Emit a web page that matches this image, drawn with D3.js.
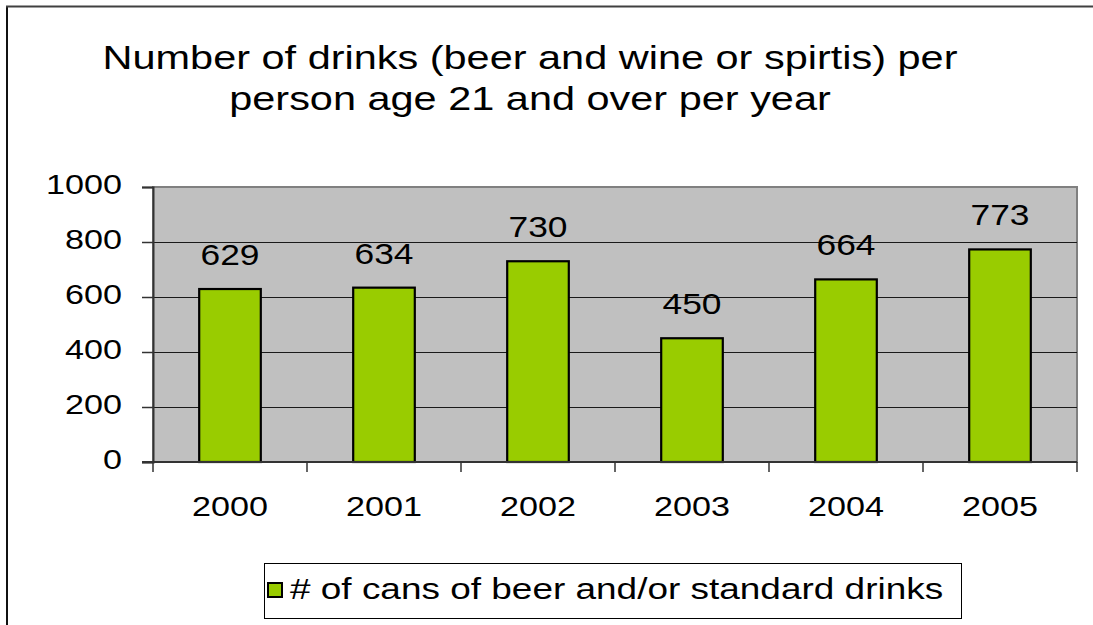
<!DOCTYPE html>
<html>
<head>
<meta charset="utf-8">
<script src="https://cdn.jsdelivr.net/npm/d3@7"></script>
<style>
  html, body { margin: 0; padding: 0; background: #fff; }
  svg { display: block; font-family: "Liberation Sans", Arial, sans-serif; }
</style>
</head>
<body>
<svg id="chart" width="1093" height="625"></svg>
<script>
const titleLines = ["Number of drinks (beer and wine or spirtis) per", "person age 21 and over per year"];
const categories = ["2000", "2001", "2002", "2003", "2004", "2005"];
const values = [629, 634, 730, 450, 664, 773];
const yTicks = [0, 200, 400, 600, 800, 1000];
const seriesName = "# of cans of beer and/or standard drinks";

const W = 1093, H = 625;
const SX = 1.22; // horizontal stretch of the text in the original
const plot = { left: 153, right: 1077, top: 187, bottom: 462 };

const svg = d3.select("#chart");

// outer frame (left and top edges visible)
svg.append("line").attr("x1", 7).attr("x2", 7).attr("y1", 6).attr("y2", H)
  .attr("stroke", "#111").attr("stroke-width", 2);
svg.append("line").attr("x1", 6).attr("x2", W).attr("y1", 6.5).attr("y2", 6.5)
  .attr("stroke", "#404040").attr("stroke-width", 2);

function stretchedText(sel, x, y, txt, size, anchor) {
  return sel.append("text")
    .attr("transform", `translate(${x},${y}) scale(${SX},1)`)
    .attr("text-anchor", anchor)
    .attr("font-size", size)
    .attr("fill", "#000")
    .text(txt);
}

// title
titleLines.forEach((t, i) => stretchedText(svg, 530, 69 + i * 41, t, 34, "middle"));

const x = d3.scaleBand().domain(categories).range([plot.left, plot.right])
  .paddingInner(0.6).paddingOuter(0.3);
const y = d3.scaleLinear().domain([0, 1000]).range([plot.bottom, plot.top]);

// plot area
svg.append("rect").attr("x", plot.left).attr("y", plot.top)
  .attr("width", plot.right - plot.left).attr("height", plot.bottom - plot.top)
  .attr("fill", "#C0C0C0").attr("stroke", "#808080").attr("stroke-width", 2);

// gridlines
svg.append("g").selectAll("line").data(yTicks.filter(d => d > 0 && d < 1000)).join("line")
  .attr("x1", plot.left).attr("x2", plot.right)
  .attr("y1", d => Math.round(y(d)) + 0.5).attr("y2", d => Math.round(y(d)) + 0.5)
  .attr("stroke", "#1a1a1a").attr("stroke-width", 1);

// bars
svg.append("g").selectAll("rect").data(values).join("rect")
  .attr("x", (d, i) => x(categories[i]))
  .attr("y", d => y(d))
  .attr("width", x.bandwidth())
  .attr("height", d => y(0) - y(d))
  .attr("fill", "#99CC00").attr("stroke", "#000").attr("stroke-width", 2.2);

// y axis
const yAxis = svg.append("g").attr("transform", `translate(${plot.left},0)`)
  .call(d3.axisLeft(y).tickValues(yTicks).tickSize(11).tickFormat(""));
yAxis.select(".domain").attr("stroke", "#333").attr("stroke-width", 2);
yAxis.selectAll(".tick line").attr("stroke", "#333").attr("stroke-width", 1.5);
yTicks.forEach(t => stretchedText(svg, 122, y(t) + 7, String(t), 28, "end"));

// x axis (ticks at category boundaries)
const xAxisG = svg.append("g").attr("transform", `translate(0,${plot.bottom})`);
xAxisG.append("line").attr("x1", plot.left - 11).attr("x2", plot.right)
  .attr("y1", 0).attr("y2", 0).attr("stroke", "#333").attr("stroke-width", 2);
const bScale = d3.scaleLinear().domain([0, categories.length]).range([plot.left, plot.right]);
xAxisG.selectAll("line.tk").data(d3.range(categories.length + 1)).join("line")
  .attr("class", "tk")
  .attr("x1", d => bScale(d)).attr("x2", d => bScale(d))
  .attr("y1", 0).attr("y2", 10).attr("stroke", "#333").attr("stroke-width", 1.5);
categories.forEach(c => stretchedText(svg, x(c) + x.bandwidth() / 2, 516, c, 28, "middle"));

// data labels
values.forEach((v, i) => stretchedText(svg, x(categories[i]) + x.bandwidth() / 2, y(v) - 24, String(v), 29, "middle"));

// legend
const lg = svg.append("g");
lg.append("rect").attr("x", 264.5).attr("y", 563.5).attr("width", 697).attr("height", 55)
  .attr("fill", "#fff").attr("stroke", "#000").attr("stroke-width", 1);
lg.append("rect").attr("x", 268).attr("y", 583).attr("width", 14).attr("height", 14)
  .attr("fill", "#99CC00").attr("stroke", "#000").attr("stroke-width", 2);
stretchedText(lg, 290, 599, seriesName, 30.3, "start");
</script>
</body>
</html>
